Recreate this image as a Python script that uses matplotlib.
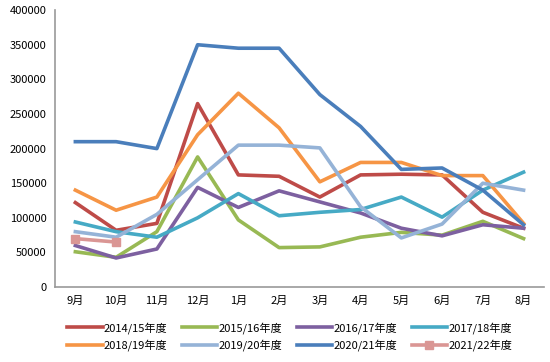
import matplotlib.pyplot as plt

plt.rcParams['font.family'] = ['Noto Sans CJK SC', 'DejaVu Sans']

months = ['9月', '10月', '11月', '12月', '1月', '2月', '3月', '4月', '5月', '6月', '7月', '8月']
s1415 = [122000, 82000, 92000, 265000, 162000, 160000, 130000, 162000, 163000, 162000, 108000, 85000]
s1516 = [51000, 43000, 80000, 188000, 97000, 57000, 58000, 72000, 79000, 75000, 95000, 70000]
s1617 = [60000, 42000, 55000, 144000, 115000, 139000, 123000, 107000, 85000, 74000, 90000, 85000]
s1718 = [94000, 80000, 72000, 100000, 135000, 103000, 108000, 112000, 130000, 101000, 140000, 166000]
s1819 = [140000, 111000, 130000, 220000, 280000, 230000, 152000, 180000, 180000, 161000, 161000, 92000]
s1920 = [80000, 72000, 105000, 155000, 205000, 205000, 201000, 116000, 71000, 91000, 150000, 140000]
s2021 = [210000, 210000, 200000, 350000, 345000, 345000, 278000, 232000, 170000, 172000, 140000, 90000]
s2122 = [70000, 65000]

series = [
    ('2014/15年度', s1415, '#BE4B48'),
    ('2015/16年度', s1516, '#98B954'),
    ('2016/17年度', s1617, '#7D60A0'),
    ('2017/18年度', s1718, '#46AAC5'),
    ('2018/19年度', s1819, '#F69545'),
    ('2019/20年度', s1920, '#95B3D7'),
    ('2020/21年度', s2021, '#4A7EBB'),
]

fig = plt.figure(figsize=(5.5, 3.62), dpi=100)
ax = fig.add_axes([0.1, 0.207, 0.889, 0.765])
x = list(range(len(months)))
for name, vals, c in series:
    ax.plot(x[:len(vals)], vals, color=c, lw=2.6, label=name)
ax.plot(x[:len(s2122)], s2122, color='#DA9694', lw=2.6, marker='s', ms=6, label='2021/22年度')

ax.set_xlim(-0.5, 11.5)
ax.set_ylim(0, 400000)
ax.set_yticks(range(0, 400001, 50000))
ax.set_xticks(x)
ax.set_xticklabels(months)
ax.tick_params(labelsize=8, length=0, pad=6)
for s in ['top', 'right']:
    ax.spines[s].set_visible(False)
for s in ['left', 'bottom']:
    ax.spines[s].set_color('#999999')
    ax.spines[s].set_linewidth(1.2)

# legend filled row by row, like the original
h, l = ax.get_legend_handles_labels()
order = [0, 4, 1, 5, 2, 6, 3, 7]
ax.legend([h[i] for i in order], [l[i] for i in order],
          loc='upper center', bbox_to_anchor=(0.48, -0.09), ncol=4, frameon=False,
          fontsize=8, handlelength=3.2, handletextpad=0.1, columnspacing=1.3,
          labelspacing=0.5)

fig.savefig('out.png', dpi=100)
